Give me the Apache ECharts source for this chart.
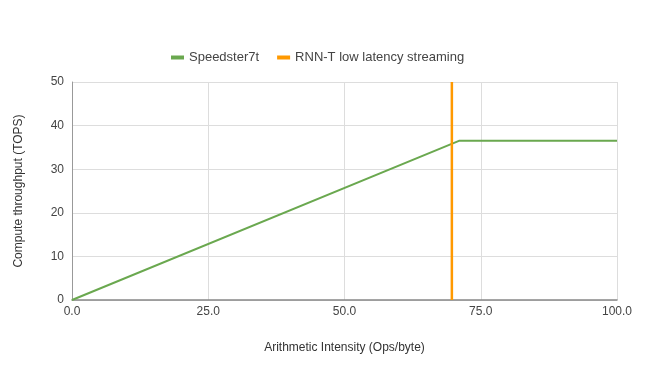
<!DOCTYPE html>
<html>
<head>
<meta charset="utf-8">
<script src="https://cdn.jsdelivr.net/npm/echarts@6/dist/echarts.min.js"></script>
<style>
  html, body { margin: 0; padding: 0; background: #fff; }
  #chart { width: 650px; height: 378px; }
</style>
</head>
<body>
<div id="chart"></div>
<script>
// roofline of the device and the workload marker
var speedsterPoints = [[0, 0], [71, 36.5], [100, 36.5]];
var rnntPoints = [[69.7, 0], [69.7, 50]];
var seriesNames = ['Speedster7t', 'RNN-T low latency streaming'];
var xTicks = [0, 25, 50, 75, 100];
var yMax = 50;

var chart = echarts.init(document.getElementById('chart'));
var font = 'Liberation Sans, Arial, sans-serif';

var option = {
  animation: false,
  textStyle: { fontFamily: font },
  legend: {
    top: 46,
    left: 166,
    itemWidth: 13,
    itemHeight: 4,
    itemGap: 18,
    icon: 'rect',
    textStyle: { color: '#444', fontSize: 13, fontFamily: font },
    data: seriesNames
  },
  grid: { left: 72, right: 33, top: 82, bottom: 78 },
  xAxis: {
    type: 'value',
    min: 0, max: 100, interval: 25,
    name: 'Arithmetic Intensity (Ops/byte)',
    nameLocation: 'middle',
    nameGap: 42,
    nameTextStyle: { color: '#333', fontSize: 12, fontFamily: font },
    axisLine: { show: true, lineStyle: { color: '#888', width: 1.5 } },
    axisTick: { show: false },
    axisLabel: {
      color: '#444', fontSize: 12, margin: 6,
      formatter: function (v) { return v.toFixed(1); }
    },
    splitLine: { show: true, lineStyle: { color: '#ddd', width: 1 } }
  },
  yAxis: {
    type: 'value',
    min: 0, max: yMax, interval: 10,
    name: 'Compute throughput (TOPS)',
    nameLocation: 'middle',
    nameGap: 47,
    nameTextStyle: { color: '#333', fontSize: 12, fontFamily: font },
    axisLine: { show: true, lineStyle: { color: '#999', width: 1 } },
    axisTick: { show: false },
    axisLabel: { color: '#444', fontSize: 12, margin: 8 },
    splitLine: { show: true, lineStyle: { color: '#ddd', width: 1 } }
  },
  color: ['#6aa84f', '#ff9900'],
  series: [
    {
      name: seriesNames[0],
      type: 'line',
      data: speedsterPoints,
      symbol: 'none',
      lineStyle: { width: 2, color: '#6aa84f' },
      z: 3
    },
    {
      name: seriesNames[1],
      type: 'line',
      data: rnntPoints,
      symbol: 'none',
      lineStyle: { width: 2.5, color: '#ff9900' },
      z: 4
    }
  ]
};
chart.setOption(option);
</script>
</body>
</html>
